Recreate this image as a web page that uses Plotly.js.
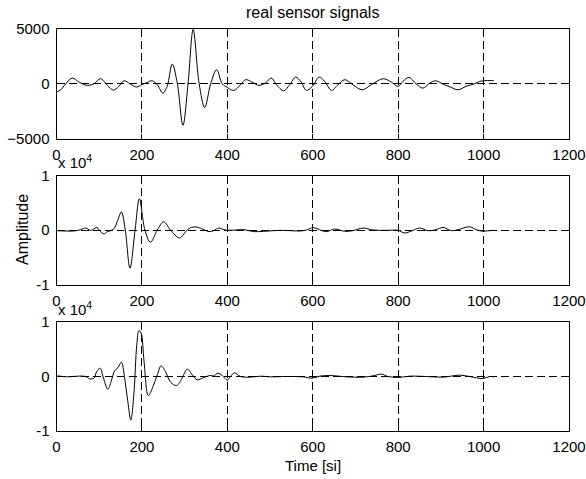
<!DOCTYPE html>
<html>
<head>
<meta charset="utf-8">
<script src="https://cdn.plot.ly/plotly-3.0.1.min.js"></script>
<style>html,body{margin:0;padding:0;background:#fff;}#chart{width:586px;height:479px;}</style>
</head>
<body>
<div id="chart"></div>
<script>
// Sensor 1 (top)
var t1 = [1,10,21,37,53,72,88,103,119,133,146,158,173,188,199,212,224,236,249,259,271,283,296,308,320,334,347,361,375,388,400,415,431,443,458,474,489,503,515,532,546,560,573,585,599,615,628,644,659,675,694,716,737,765,784,800,811,825,842,858,874,888,905,924,940,959,979,991,1014,1024];
var s1 = [-750,-550,-30,520,150,-150,0,460,-150,-580,-240,270,-30,-300,-90,120,270,-90,-850,-240,1800,0,-3800,0,4950,0,-2170,0,1280,0,-330,-610,-90,370,150,-150,60,520,-90,-640,-90,610,150,-610,-240,610,210,-610,-90,370,-90,-550,-90,460,150,-240,210,580,0,-400,60,270,-30,-330,-550,-240,0,210,300,270];
// Sensor 2 (middle)
var t2 = [2,18,41,57,68,80,95,103,111,119,127,134,143,152,161,172,184,194,207,220,236,251,267,288,306,316,329,345,357,368,380,392,403,419,439,462,485,509,531,570,585,601,616,632,651,675,694,718,741,772,800,815,831,850,870,889,905,924,940,967,983,999,1006,1024];
var s2 = [-120,-180,-180,60,360,-60,420,-300,-730,-300,-120,180,1700,3300,0,-7000,0,5750,0,-2240,0,1500,0,-1450,0,480,540,60,-300,-120,360,60,-60,0,60,-300,-240,-120,-60,-180,0,420,60,-300,180,-240,-120,360,0,-60,-60,-550,-180,360,-120,60,480,-120,60,600,60,-240,-180,-60];
// Sensor 3 (bottom)
var t3 = [2,25,49,68,78,88,94,102,110,120,128,136,144,152,159,167,174,181,188,193,198,205,215,226,236,245,255,267,281,294,306,318,329,345,359,368,378,388,400,407,417,431,454,478,501,538,577,599,616,640,679,718,741,761,776,800,827,866,905,944,967,999,1014,1024];
var s3 = [120,-60,60,0,-430,-300,900,1530,-300,-2330,-900,1040,1650,2640,0,-4600,-8000,-3400,5800,8400,8000,2760,-3500,-1840,300,1960,920,-1040,-1650,-300,1350,300,-600,-180,180,120,610,180,-670,0,670,0,-120,60,-60,0,-60,-300,60,180,-60,-120,120,430,0,-180,60,0,-120,250,0,-370,0,-60];

var xTicks = [0,200,400,600,800,1000,1200];
var yTicksTop = [-5000,0,5000];
var yTicksLow = [-10000,0,10000];
var yTickTextLow = ['-1','0','1'];

var FONT = 'Liberation Sans, Arial, sans-serif';
var tickfont = {family: FONT, size: 15, color: '#000'};
var DASH = '8px,4px';

function line(x, y, xa, ya) {
  return {x: x, y: y, xaxis: xa, yaxis: ya, type: 'scatter', mode: 'lines',
          line: {color: '#000', width: 1, shape: 'spline', smoothing: 1}, hoverinfo: 'skip'};
}

function xax(anchor) {
  return {domain: [56.5/586, 569/586], range: [0, 1200], tickvals: xTicks, ticks: 'inside', ticklen: 5,
          tickcolor: '#000', showline: true, linecolor: '#000', linewidth: 1, mirror: 'ticks',
          showgrid: true, gridcolor: '#000', griddash: DASH, gridwidth: 1, zeroline: false,
          tickfont: tickfont, anchor: anchor, ticklabelstandoff: 2, fixedrange: true};
}
function yax(anchor, top, bottom, vals, text) {
  var a = {domain: [1 - bottom/479, 1 - top/479], tickvals: vals, ticks: 'inside', ticklen: 5,
          tickcolor: '#000', showline: true, linecolor: '#000', linewidth: 1, mirror: 'ticks',
          showgrid: true, gridcolor: '#000', griddash: DASH, gridwidth: 1, zeroline: false,
          tickfont: tickfont, anchor: anchor, ticklabelstandoff: 3, fixedrange: true,
          range: [vals[0], vals[2]]};
  if (text) a.ticktext = text;
  return a;
}

var data = [line(t1, s1, 'x', 'y'), line(t2, s2, 'x2', 'y2'), line(t3, s3, 'x3', 'y3')];

var cx = 312.75/586;
var layout = {
  width: 586, height: 479, margin: {l: 0, r: 0, t: 0, b: 0},
  paper_bgcolor: '#fff', plot_bgcolor: '#fff', showlegend: false,
  xaxis: xax('y'), yaxis: yax('x', 29, 138.5, yTicksTop),
  xaxis2: xax('y2'), yaxis2: yax('x2', 175.5, 284.5, yTicksLow, yTickTextLow),
  xaxis3: xax('y3'), yaxis3: yax('x3', 322, 431, yTicksLow, yTickTextLow),
  annotations: [
    {text: 'real sensor signals', xref: 'paper', yref: 'paper', x: cx, y: 1 - 12/479, xanchor: 'center', yanchor: 'middle', showarrow: false, font: {family: FONT, size: 16, color: '#000'}},
    {text: 'Amplitude', xref: 'paper', yref: 'paper', x: 23/586, y: 1 - 230/479, xanchor: 'center', yanchor: 'middle', textangle: -90, showarrow: false, font: {family: FONT, size: 16, color: '#000'}},
    {text: 'Time [si]', xref: 'paper', yref: 'paper', x: cx, y: 1 - 465/479, xanchor: 'center', yanchor: 'middle', showarrow: false, font: {family: FONT, size: 15, color: '#000'}},
    {text: 'x 10<sup>4</sup>', xref: 'paper', yref: 'paper', x: 56/586, y: 1 - 161/479, xanchor: 'left', yanchor: 'middle', showarrow: false, font: {family: FONT, size: 15, color: '#000'}},
    {text: 'x 10<sup>4</sup>', xref: 'paper', yref: 'paper', x: 56/586, y: 1 - 308/479, xanchor: 'left', yanchor: 'middle', showarrow: false, font: {family: FONT, size: 15, color: '#000'}}
  ]
};

Plotly.newPlot('chart', data, layout, {displayModeBar: false, staticPlot: true});
</script>
</body>
</html>
